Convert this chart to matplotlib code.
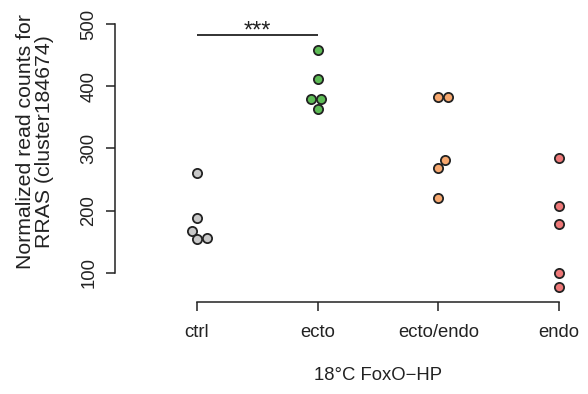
import matplotlib
matplotlib.use("Agg")
import matplotlib.pyplot as plt
import matplotlib.transforms as mtransforms

plt.rcParams['font.family'] = ['Liberation Sans', 'DejaVu Sans']

# data: normalized read counts per group
groups = ["ctrl", "ecto", "ecto/endo", "endo"]
ctrl = [261, 188, 167, 154, 156]
ecto = [459, 412, 380, 380, 364]
ecto_endo = [382, 382, 281, 268, 221]
endo = [284, 208, 178, 100, 77]
values = [ctrl, ecto, ecto_endo, endo]
# small horizontal offsets so overlapping points stay visible
jitter = [
    [0, 0, -0.045, 0, 0.083],
    [0, 0, -0.058, 0.03, 0],
    [0, 0.083, 0.055, 0, 0],
    [0, 0, 0, 0, 0],
]
colors = ["#c8c8c8", "#5dbb55", "#f7a86f", "#ee7878"]
yticks = [100, 200, 300, 400, 500]
sig_pair = (1, 2)
sig_y = 482
sig_label = "***"

W, H = 588, 394
fig = plt.figure(figsize=(W / 100, H / 100), dpi=100)
ax = fig.add_axes([115 / W, (H - 302) / H, (575 - 115) / W, (302 - 10) / H])

for i, (vals, off, col) in enumerate(zip(values, jitter, colors)):
    xs = [i + 1 + o for o in off]
    ax.scatter(xs, vals, s=44, color=col, edgecolor="#222222",
               linewidth=1.3, zorder=3, clip_on=False)

ax.plot(sig_pair, [sig_y, sig_y], color="#222222", lw=1.3, solid_capstyle="butt")
ax.text(sum(sig_pair) / 2, 479, sig_label, ha="center", va="baseline",
        fontsize=17, color="#222222")

ax.set_xlim(0.3205, 4.1326)
ax.set_ylim(53.4, 522.5)
ax.set_xticks(range(1, len(groups) + 1))
ax.set_xticklabels(groups)
ax.set_yticks(yticks)
ax.set_yticklabels([str(t) for t in yticks], rotation=90, va="center")

for s in ["top", "right"]:
    ax.spines[s].set_visible(False)
ax.spines["left"].set_bounds(yticks[0], yticks[-1])
ax.spines["bottom"].set_bounds(1, len(groups))
for s in ["left", "bottom"]:
    ax.spines[s].set_linewidth(1.1)
    ax.spines[s].set_color("#222222")
ax.tick_params(axis="both", direction="out", length=6.8, width=1.1,
               color="#222222", labelsize=13.3, labelcolor="#222222")
ax.tick_params(axis="y", pad=6)
ax.tick_params(axis="x", pad=9)

trans = mtransforms.blended_transform_factory(ax.transData, fig.transFigure)
ax.text(2.5, (H - 376) / H, "18°C FoxO\u2212HP", transform=trans,
        ha="center", va="center", fontsize=13.3, color="#222222")

fig.text(35 / W, (H - 142) / H, "Normalized read counts for\nRRAS (cluster184674)",
         rotation=90, ha="center", va="center", fontsize=15.3,
         color="#222222", linespacing=0.95)

fig.savefig("out.png", dpi=100)
